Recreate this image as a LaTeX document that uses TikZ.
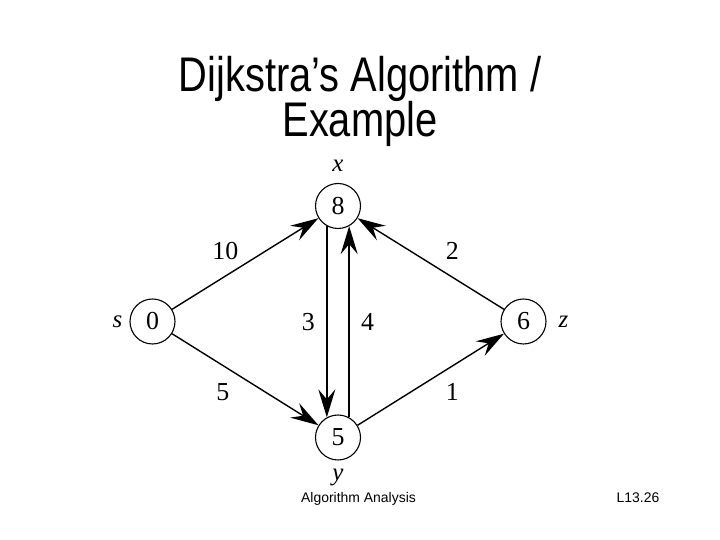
\documentclass[tikz,border=0pt]{standalone}
\usepackage{fontspec}
\setmainfont{Liberation Sans}
\newfontfamily\grafont{Liberation Serif}
\usetikzlibrary{arrows.meta, positioning}

\begin{document}
\begin{tikzpicture}[>={Stealth[length=28bp, width=17bp, inset=10bp]},
    x=1bp, y=1bp, line width=1.4bp,
    vertex/.style={circle, draw, line width=1.1bp, minimum size=45bp,
      inner sep=0pt, font=\grafont\fontsize{26}{26}\selectfont},
    vname/.style={font=\grafont\itshape\fontsize{25}{25}\selectfont},
    wt/.style={font=\grafont\fontsize{26}{26}\selectfont}]
  \useasboundingbox (0,0) rectangle (720,540);
  % title
  \node[anchor=base, yscale=1.22, font=\fontsize{40}{40}\selectfont]
    (title1) at (360,448) {Dijkstra’s Algorithm /};
  \node[anchor=base, yscale=1.22, font=\fontsize{40}{40}\selectfont]
    (title2) at (360,403) {Example};
  % vertices
  \node[vertex] (s) at (152.5,218.5) {0};
  \node[vertex] (x) at (338,334) {8};
  \node[vertex] (y) at (338,102.5) {5};
  \node[vertex] (z) at (523.5,218.5) {6};
  \node[vname, left=3bp of s] (sname) {s};
  \node[vname, above=7bp of x] (xname) {x};
  \node[vname, below=5bp of y] (yname) {y};
  \node[vname, right=8bp of z] (zname) {z};
  % edges
  \draw[->] (s) -- node[wt, above left, xshift=-3bp] {10} (x);
  \draw[->] (s) -- node[wt, below left, xshift=-12bp] {5} (y);
  \draw[->] (x.-119) -- node[wt, left=8bp] {3} (y.119);
  \draw[->] (y.61) -- node[wt, right=8bp] {4} (x.-61);
  \draw[->] (z) -- node[wt, above right, xshift=11bp] {2} (x);
  \draw[->] (y) -- node[wt, below right, xshift=11bp] {1} (z);
  % footer
  \node[anchor=base, font=\fontsize{14}{14}\selectfont]
    (course) at (358.5,37) {Algorithm Analysis};
  \node[anchor=base, font=\fontsize{14}{14}\selectfont]
    (slide) at (638,37) {L13.26};
\end{tikzpicture}
\end{document}
